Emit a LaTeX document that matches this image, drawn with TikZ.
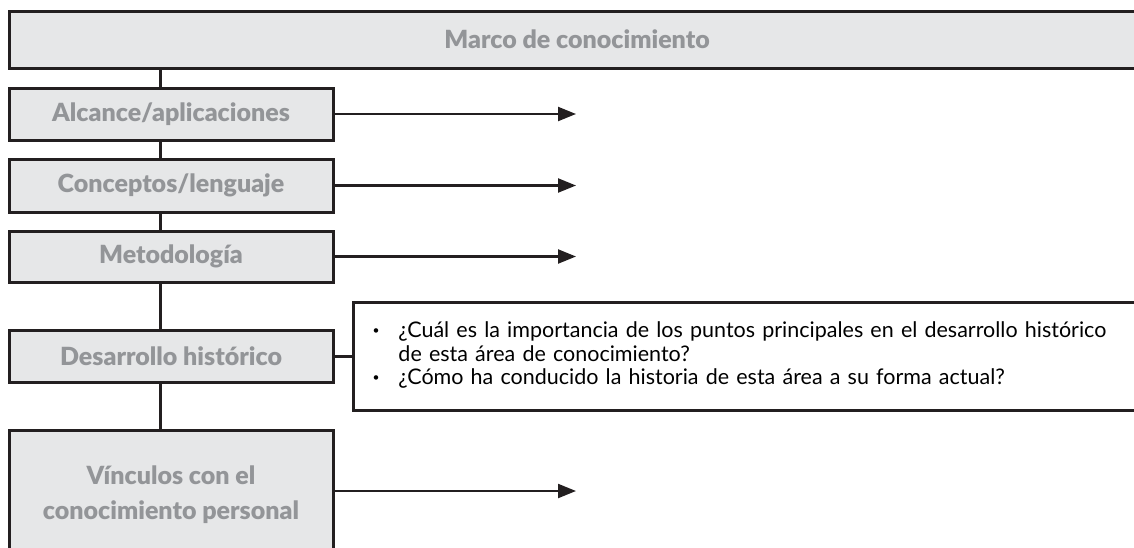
\documentclass[tikz,border=0pt]{standalone}
\usepackage{fontspec}
\setmainfont{Lato}
\newfontfamily\negrita{Lato Black}
\usetikzlibrary{arrows.meta}

\definecolor{relleno}{HTML}{E6E7E8}
\definecolor{linea}{HTML}{231F20}
\definecolor{gristexto}{HTML}{939598}

\begin{document}
\begin{tikzpicture}[x=1pt,y=-1pt,
  etapa/.style={draw=linea,line width=3pt,fill=relleno,text=gristexto,
    font=\negrita\fontsize{25}{35}\selectfont,align=center,inner sep=0pt,
    minimum width=324pt},
  enlace/.style={draw=linea,line width=3pt},
  flecha/.style={draw=linea,line width=2.2pt,-{Triangle[length=18pt,width=14pt]}}]
\useasboundingbox (0,0) rectangle (1134,547);
\coordinate (eje) at (160,0);

\node[etapa,minimum width=1136pt,minimum height=57pt] (marco) at (577,39.5) {Marco de conocimiento};
\node[etapa,minimum height=52pt] (alcance) at (171,114) {Alcance/aplicaciones};
\node[etapa,minimum height=53pt] (conceptos) at (171,185.5) {Conceptos/lenguaje};
\node[etapa,minimum height=51pt] (metodo) at (171,256.5) {Metodología};
\node[etapa,minimum height=52pt] (historia) at (171,356) {Desarrollo histórico};
\node[etapa,minimum height=130pt] (vinculos) at (171,495) {Vínculos con el\\conocimiento personal};

\node[draw=linea,line width=3pt,fill=white,anchor=west,minimum height=108pt,
  text width=790pt,inner xsep=19pt,align=left,font=\fontsize{21.5}{23.5}\selectfont] (preguntas) at (352,356.5)
  {\begin{tabular}{@{}l@{\hspace{19pt}}l@{}}
   \raisebox{3pt}{\fontsize{12}{12}\selectfont\textbullet} & ¿Cuál es la importancia de los puntos principales en el desarrollo histórico\\
   & de esta área de conocimiento?\\
   \raisebox{3pt}{\fontsize{12}{12}\selectfont\textbullet} & ¿Cómo ha conducido la historia de esta área a su forma actual?
   \end{tabular}};

\coordinate (fin1) at (576,114);
\coordinate (fin2) at (576,185.5);
\coordinate (fin3) at (576,256.5);
\coordinate (fin4) at (576,491);

% tronco vertical
\draw[enlace] (marco.south -| eje) -- (alcance.north -| eje);
\draw[enlace] (alcance.south -| eje) -- (conceptos.north -| eje);
\draw[enlace] (conceptos.south -| eje) -- (metodo.north -| eje);
\draw[enlace] (metodo.south -| eje) -- (historia.north -| eje);
\draw[enlace] (historia.south -| eje) -- (vinculos.north -| eje);

% salidas
\draw[flecha] (alcance.east) -- (fin1);
\draw[flecha] (conceptos.east) -- (fin2);
\draw[flecha] (metodo.east) -- (fin3);
\draw[flecha] (vinculos.east |- fin4) -- (fin4);
\draw[enlace] (historia.east) -- (preguntas.west |- historia.east);
\end{tikzpicture}
\end{document}
